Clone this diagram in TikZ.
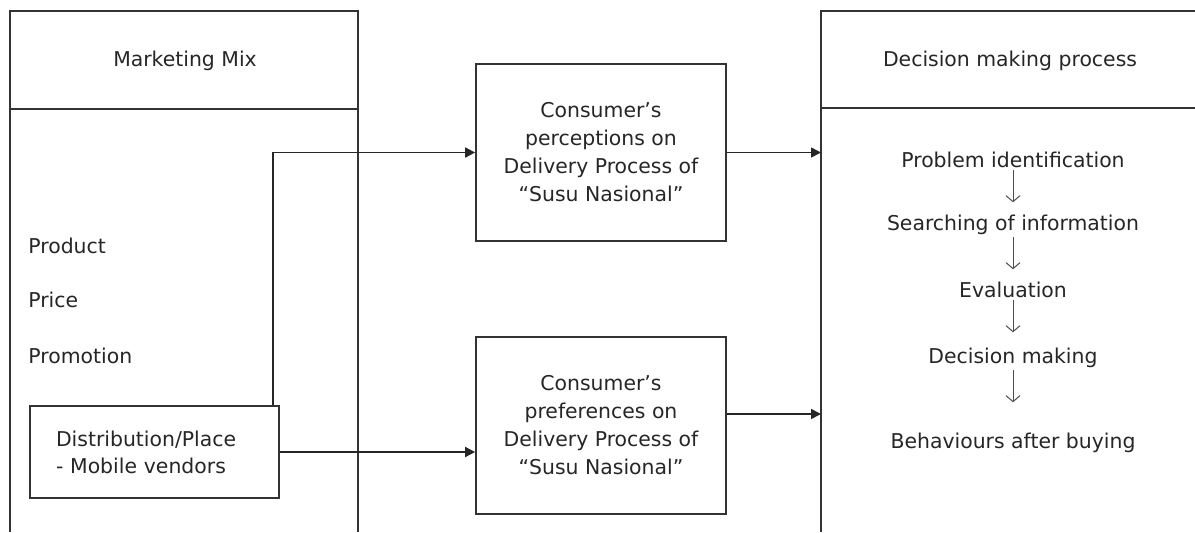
\documentclass[tikz,border=0pt]{standalone}
\usepackage{fontspec}
\setmainfont{DejaVu Sans}
\usetikzlibrary{arrows.meta}
\usetikzlibrary{positioning}

\tikzset{
  frame/.style={draw=black!80, line width=0.85pt},
  conbox/.style={frame, minimum width=125pt, minimum height=88.5pt, align=center, inner sep=0pt,
    font=\fontsize{10.2}{14}\selectfont},
  link/.style={black!85, line width=0.85pt, -{Triangle[length=5pt,width=5pt]}},
  stepnode/.style={inner sep=0pt, font=\fontsize{10.2}{12}\selectfont, text=black!85},
  steparrow/.style={black!70, line width=0.5pt, shorten <=1pt, -{Straight Barb[length=3pt,width=7pt]}},
  plain/.style={inner sep=0pt, font=\fontsize{10.2}{12}\selectfont, text=black!85}
}

\begin{document}
\begin{tikzpicture}[x=0.5pt,y=0.5pt,yscale=-1,xscale=1]
\useasboundingbox (0,0) rectangle (1195,532);

%Marketing mix frame
\draw [frame] (10,532) -- (10,11) -- (358,11) -- (358,532) ;
\draw [frame] (10,109) -- (358,109) ;
%Decision making frame
\coordinate (dmp) at (821,11);
\draw [frame] (dmp |- 0,532) -- (dmp) -- (1195,11) ;
\draw [frame] (821,108) -- (1195,108) ;

% Text Node
\node [plain] (mix) at (185,61) {Marketing Mix};
% Text Node
\node [plain] (dmhead) at (1010,61) {Decision making process};
% Text Node
\node [plain, anchor=west] (product) at (28,246) {Product};
\node [plain, anchor=west] (price) at (28,300) {Price};
\node [plain, anchor=west] (promo) at (28,356) {Promotion};

% Distribution box
\node [frame, minimum width=124.5pt, minimum height=46pt, text width=98.5pt, inner xsep=13pt,
  align=left, font=\fontsize{10.2}{13.5}\selectfont, text=black!85] (dist) at (154.5,452)
  {Distribution/Place\\- Mobile vendors};

% Consumer boxes
\node [conbox, text=black!85] (percept) at (601,152.5)
  {Consumer’s\\perceptions on\\Delivery Process of\\“Susu Nasional”};
\node [conbox, text=black!85] (prefer) at (601,425.5)
  {Consumer’s\\preferences on\\Delivery Process of\\“Susu Nasional”};

% Decision steps
\node [stepnode] (s1) at (1013,160) {Problem identification};
\node [stepnode] (s2) at (1013,225) {Searching of information};
\node [stepnode] (s3) at (1013,290) {Evaluation};
\node [stepnode] (s4) at (1013,358) {Decision making};
\node [stepnode] (s5) at (1013,443) {Behaviours after buying};

\foreach \a in {s1,s2,s3,s4}
  \draw [steparrow] (\a.south) -- ++(0,34) ;

%Straight Lines
\coordinate (bend) at (273,153);
\draw [link] (dist.north -| bend) |- (percept.west) ;
\draw [link] (dist.east) -- (dist.east -| prefer.west) ;
\draw [link] (percept.east) -- (percept.east -| dmp) ;
\draw [link] ([yshift=-5.75pt]prefer.east) -- ([yshift=-5.75pt]prefer.east -| dmp) ;

\end{tikzpicture}
\end{document}
